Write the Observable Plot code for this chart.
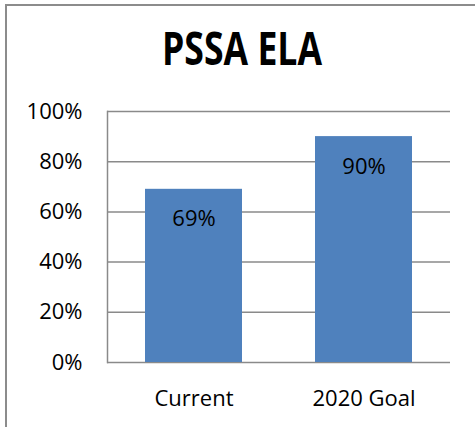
<!DOCTYPE html>
<html>
<head>
<meta charset="utf-8">
<script src="https://cdn.jsdelivr.net/npm/d3@7"></script>
<script src="https://cdn.jsdelivr.net/npm/@observablehq/plot@0.6"></script>
<style>
  html, body { margin: 0; padding: 0; width: 475px; height: 427px; overflow: hidden; background: #fff; }
  #frame { position: absolute; left: 5px; top: 4px; width: 500px; height: 460px; border: 2px solid #8c8c8c; box-sizing: border-box; }
  #title { position: absolute; left: 0; top: 21px; width: 484px; text-align: center; font-family: "Open Sans", sans-serif; font-weight: bold; font-size: 40px; line-height: 54px; color: #000; transform: scale(0.89, 1.15); transform-origin: 50% 50%; }
  #chart { position: absolute; left: 0; top: 90px; }
</style>
</head>
<body>
<div id="frame"></div>
<div id="title">PSSA ELA</div>
<div id="chart"></div>
<script>
const categories = ["Current", "2020 Goal"];
const values = [0.69, 0.90];
const yTicks = [0, 0.2, 0.4, 0.6, 0.8, 1.0];

const data = categories.map((c, i) => ({category: c, value: values[i]}));
const font = "'Open Sans', sans-serif";

const chart = Plot.plot({
  width: 475,
  height: 337,
  marginLeft: 107,
  marginRight: 25,
  marginTop: 21,
  marginBottom: 65,
  style: {fontFamily: font, fontSize: "22px", color: "#000", background: "transparent"},
  x: {domain: categories, paddingInner: 0.43, paddingOuter: 0.219, label: null},
  y: {domain: [0, 1], label: null},
  marks: [
    Plot.gridY(yTicks, {stroke: "#8a8a8a", strokeOpacity: 1, strokeWidth: 1.5}),
    Plot.barY(data, {x: "category", y: "value", fill: "#4f81bd"}),
    Plot.frame({anchor: "left", stroke: "#8a8a8a", strokeWidth: 1.5}),
    Plot.text(data, {x: "category", y: "value", text: d => Math.round(d.value * 100) + "%", dy: 30, fill: "#000", fontSize: 22}),
    Plot.axisY(yTicks, {tickSize: 0, tickPadding: 25, tickFormat: d => Math.round(d * 100) + "%", fontSize: 22, label: null}),
    Plot.axisX({tickSize: 0, tickPadding: 28, fontSize: 22, label: null})
  ]
});
document.getElementById("chart").appendChild(chart);
</script>
</body>
</html>
